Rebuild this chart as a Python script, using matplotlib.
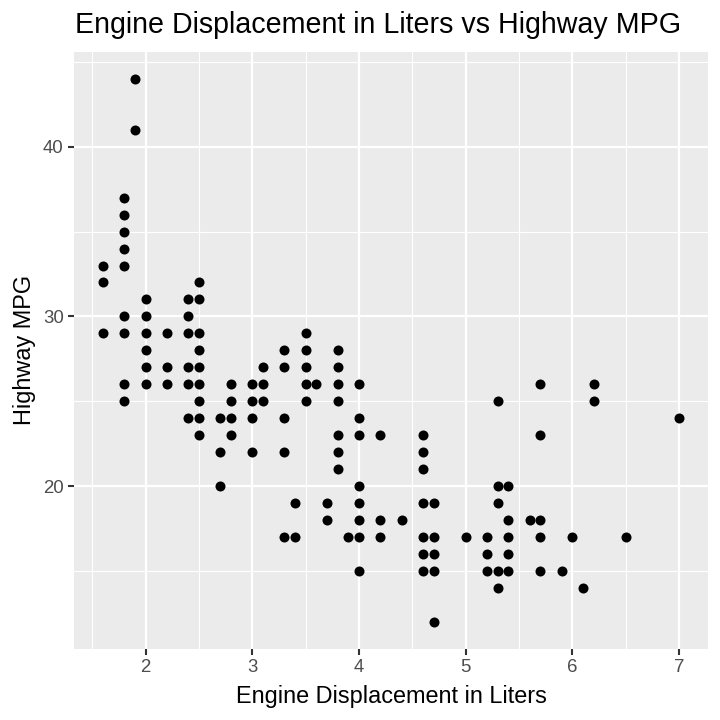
import numpy as np
import matplotlib
matplotlib.use("Agg")
import matplotlib.pyplot as plt
from matplotlib.ticker import MultipleLocator

# punti distinti (displ, hwy)
displ_groups = [1.6, 1.8, 1.9, 2.0, 2.2, 2.4, 2.5, 2.7, 2.8, 3.0, 3.1, 3.3, 3.4,
                3.5, 3.6, 3.7, 3.8, 3.9, 4.0, 4.2, 4.4, 4.6, 4.7, 5.0, 5.2, 5.3,
                5.4, 5.6, 5.7, 5.9, 6.0, 6.1, 6.2, 6.5, 7.0]
hwy_groups = [
    [33, 32, 29],
    [37, 36, 35, 34, 33, 30, 29, 26, 25],
    [44, 41],
    [31, 30, 29, 28, 27, 26],
    [29, 27, 26],
    [31, 30, 29, 27, 26, 24],
    [32, 31, 29, 28, 27, 26, 25, 24, 23],
    [24, 22, 20],
    [26, 25, 24, 23],
    [26, 25, 24, 22],
    [27, 26, 25],
    [28, 27, 24, 22, 17],
    [19, 17],
    [29, 28, 27, 26, 25],
    [26],
    [19, 18],
    [28, 27, 26, 25, 23, 22, 21],
    [17],
    [26, 24, 23, 20, 19, 18, 17, 15],
    [23, 18, 17],
    [18],
    [23, 22, 21, 19, 17, 16, 15],
    [19, 17, 16, 15, 12],
    [17],
    [17, 16, 15],
    [25, 20, 19, 15, 14],
    [20, 18, 17, 16, 15],
    [18],
    [26, 23, 18, 17, 15],
    [15],
    [17],
    [14],
    [26, 25],
    [17],
    [24],
]
x_ticks = [2, 3, 4, 5, 6, 7]
y_ticks = [20, 30, 40]

displ = np.concatenate([[d] * len(h) for d, h in zip(displ_groups, hwy_groups)])
hwy = np.concatenate(hwy_groups)

plt.rcParams['font.family'] = ['Liberation Sans', 'DejaVu Sans']

W = 720
fig = plt.figure(figsize=(7.2, 7.2), dpi=100)
L, R, T, B = 74, 708, 51.7, 649
ax = fig.add_axes([L / W, 1 - B / W, (R - L) / W, (B - T) / W])
ax.set_facecolor('#EBEBEB')
for s in ax.spines.values():
    s.set_visible(False)

# limiti con espansione 5% come ggplot
xr = displ.max() - displ.min()
yr = hwy.max() - hwy.min()
ax.set_xlim(displ.min() - 0.05 * xr, displ.max() + 0.05 * xr)
ax.set_ylim(hwy.min() - 0.05 * yr, hwy.max() + 0.05 * yr)

ax.set_xticks(x_ticks)
ax.set_yticks(y_ticks)
ax.xaxis.set_minor_locator(MultipleLocator(0.5))
ax.yaxis.set_minor_locator(MultipleLocator(5))
ax.grid(which='major', color='white', linewidth=1.6)
ax.grid(which='minor', color='white', linewidth=0.8)
ax.set_axisbelow(True)
ax.tick_params(which='major', length=4.3, width=1.5, color='#333333',
               labelsize=13.4, labelcolor='#4D4D4D', pad=3)
ax.tick_params(which='minor', length=0)

ax.scatter(displ, hwy, s=52, color='black', linewidths=0, zorder=3)

fig.text(75 / W, 1 - 33.3 / W, 'Engine Displacement in Liters vs Highway MPG',
         fontsize=20.6, ha='left', va='baseline')
fig.text((L + R) / 2 / W, 1 - 703.3 / W, 'Engine Displacement in Liters',
         fontsize=16.9, ha='center', va='baseline')
fig.text(30.7 / W, 1 - (T + B) / 2 / W, 'Highway MPG', fontsize=16.9,
         rotation=90, ha='center', va='baseline', rotation_mode='anchor')

fig.savefig('out.png', dpi=100)
